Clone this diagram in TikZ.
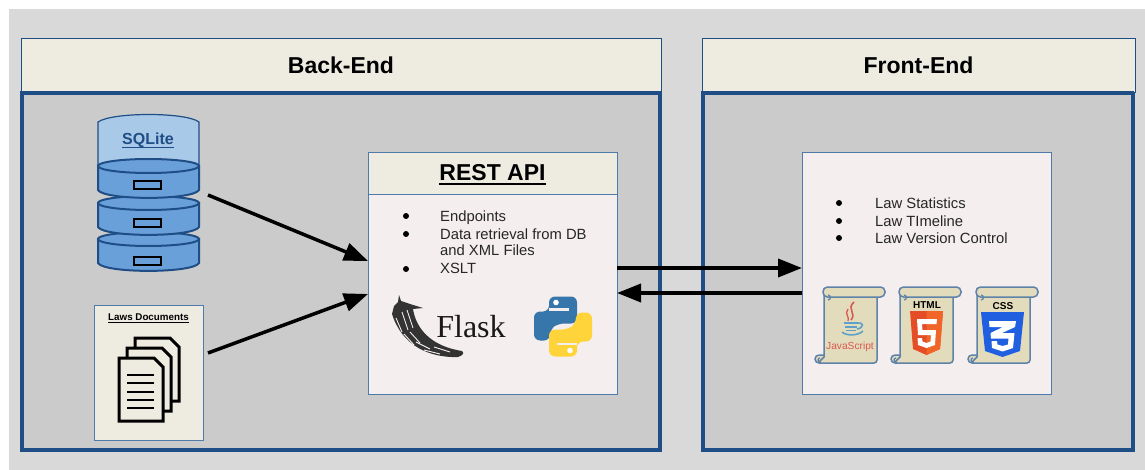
\documentclass[tikz,border=0pt]{standalone}
\usepackage{fontspec}
\setmainfont{Liberation Sans}
\newfontfamily\flaskfont{Liberation Serif}
\usetikzlibrary{arrows.meta}
\definecolor{pagegray}{HTML}{D9D9D9}
\definecolor{panelgray}{HTML}{CBCBCB}
\definecolor{cream}{HTML}{EEECE1}
\definecolor{blush}{HTML}{F5EEEE}
\definecolor{navy}{HTML}{1F4E86}
\definecolor{thinblue}{HTML}{4F7BAA}
\definecolor{diskblue}{HTML}{6AA0DA}
\definecolor{disklight}{HTML}{A9C9E8}
\definecolor{scrollfill}{HTML}{E3DCBC}
\definecolor{scrollline}{HTML}{5E82A8}
\definecolor{pyblue}{HTML}{3776AB}
\definecolor{pyyellow}{HTML}{FFD43B}
\definecolor{jsred}{HTML}{D9584F}
\definecolor{jsblue}{HTML}{5FA0C8}
\definecolor{htmlorange}{HTML}{E44D26}
\definecolor{htmlorangeb}{HTML}{F16529}
\definecolor{cssblue}{HTML}{1F5FE0}
\newcommand{\myul}[3]{\setbox0\hbox{#1}\leavevmode\rlap{\vrule height -#2 depth \dimexpr #2+#3\relax width \wd0}\box0}
\newcommand{\pysnake}[1]{%
  \path[fill=#1,rounded corners=6pt] (-14,-15) -- (-14,-30) -- (14,-30) -- (14,-3) -- (-5,-3) -- (-13,3) -- (-13,14) -- (-29,14) -- (-29,-15) -- cycle;
  \fill[#1] (-16,-17) rectangle (-10,-13);
  \fill[blush] (-14,-18.5) rectangle (6,-16);
  \fill[white] (-7,-24) circle[radius=2.8];
}
\tikzset{
  x=1pt,y=-1pt,
  panel/.style={draw=navy,line width=3.2pt,fill=panelgray},
  header/.style={draw=navy,line width=1pt,fill=cream},
  titletext/.style={font=\fontsize{23}{26}\selectfont\bfseries,anchor=base},
  box/.style={draw=thinblue,line width=1pt,fill=blush},
  listtext/.style={font=\fontsize{14.8}{17}\selectfont,anchor=base west,inner sep=0pt,text=black!85},
  bulletdot/.style={circle,fill=black,inner sep=0pt,minimum size=6pt},
  flow/.style={draw=black,line width=3.5pt,-{Triangle[length=24pt,width=18pt]}},
  diskshape/.style={draw=navy,line width=2pt,fill=diskblue},
  slot/.style={draw=black,line width=2pt,fill=diskblue},
  page/.style={draw=black,line width=3pt,fill=cream,line join=miter},
  scrollstroke/.style={draw=scrollline,line width=1.5pt,fill=scrollfill},
  scrollpic/.pic={
    \path[scrollstroke] (-9,68) [rounded corners=4pt] rectangle (4,76);
    \path[scrollstroke] (0,2) -- (53,2) -- (53,72) [rounded corners=3pt] -- (53,76) -- (-6,76) [sharp corners] -- (0,70) -- cycle;
    \path[scrollstroke,rounded corners=4.5pt] (-1,0) rectangle (61,10);
    \draw[scrollline,line width=1.2pt] (4,8) arc[start angle=90,end angle=270,radius=-2.5];
    \draw[scrollline,line width=1.2pt] (-4,71) arc[start angle=90,end angle=-90,radius=-2];
  },
}
\begin{document}
\begin{tikzpicture}
\useasboundingbox (0,0) rectangle (1145,470);
\fill[pagegray] (9,9) rectangle (1145,470);

% Back-end frame
\path[panel] (22,93) rectangle (660,450);
\path[header] (21,39) rectangle (661,93);
\draw[navy,line width=3.2pt] (21,93) -- (661,93);
\node[titletext] (backtitle) at (341,74) {Back-End};

% Front-end frame
\path[panel] (703,93) rectangle (1133,450);
\path[header] (702,39) rectangle (1135,93);
\draw[navy,line width=3.2pt] (702,93) -- (1134,93);
\node[titletext] (fronttitle) at (918.5,74) {Front-End};

% Database
\path[draw=navy,line width=1.2pt,fill=disklight] (98,122) .. controls (112,112) and (186,112) .. (199,122) -- (199,166) -- (98,166) -- cycle;
\foreach \t/\b/\s in {239/263/257,203/227/219,166/190/181}{
  \path[diskshape] (98,\t) -- (98,\b) .. controls (104,{\b+10.5}) and (193,{\b+10.5}) .. (199,\b) -- (199,\t) -- cycle;
  \path[diskshape] (148.5,\t) ellipse[x radius=50.5,y radius=7];
  \path[slot] (134,\s) rectangle (161,{\s+8.5});
}
\node[font=\fontsize{16}{18}\selectfont\bfseries,text=navy,anchor=base,inner sep=0pt] (sqlitelabel) at (148,145) {\myul{SQLite}{2pt}{1pt}};
\coordinate (dbout) at (208,195);

% Documents
\node[draw=thinblue,line width=1pt,fill=cream,minimum width=109pt,minimum height=135pt,inner sep=0pt,anchor=north west] (docs) at (94,305) {};
\node[font=\fontsize{9.8}{11}\selectfont\bfseries,anchor=base,inner sep=0pt] (docslabel) at (148.5,320) {\myul{Laws Documents}{1.5pt}{.8pt}};
\foreach \dx/\dy in {16/-20,8/-10,0/0}{
  \begin{scope}[shift={(\dx,\dy)}]
    \path[page] (119,358) -- (154,358) -- (163,367) -- (163,421) -- (119,421) -- cycle;
  \end{scope}
}
\foreach \ly in {375,383,392,400,408}{
  \draw[black,line width=2.5pt] (127,\ly) -- (154,\ly);
}
\coordinate (docsout) at (208,353);

% REST API
\node[box,minimum width=249pt,minimum height=242pt,inner sep=0pt,anchor=north west] (rest) at (368,152) {};
\node[draw=thinblue,line width=1pt,fill=cream,minimum width=249pt,minimum height=42pt,inner sep=0pt,anchor=north west] (resthead) at (368,152) {};
\node[font=\fontsize{23}{26}\selectfont\bfseries,anchor=base,inner sep=0pt] (resttitle) at (492.5,180.5) {\myul{REST API}{3pt}{1.5pt}};
\node[bulletdot] (rb1) at (406,216) {};
\node[bulletdot] (rb2) at (406,234) {};
\node[bulletdot] (rb3) at (406,269) {};
\node[listtext] (rt1) at (440,221.7) {Endpoints};
\node[listtext] (rt2) at (440,239.7) {Data retrieval from DB};
\node[listtext] (rt2b) at (440,256) {and XML Files};
\node[listtext] (rt3) at (440,273.7) {XSLT};
\coordinate (restinA) at (368,261);
\coordinate (restinB) at (368,294);
\coordinate (restoutR) at (617,268);
\coordinate (restinL) at (617,293);

% Flask logo
\path[fill=black!80] (399,295) -- (401,301) -- (410,304) -- (423,308) -- (413,309)
  .. controls (416,328) and (430,346) .. (462,351)
  .. controls (464,353) and (464,355) .. (458,357)
  .. controls (430,358) and (402,346) .. (392,314)
  -- (394,306) -- (398,302) -- cycle;
\foreach \sx/\sy/\ex/\ey in {402/312/408/330, 407/310/413/328, 396/318/402/332, 410/332/420/343, 404/334/414/345, 416/342/430/349, 424/350/440/354, 434/347/450/352, 412/347/424/353}{
  \draw[blush,line width=.9pt] (\sx,\sy) -- (\ex,\ey);
}
\node[font=\flaskfont\fontsize{32}{34}\selectfont,text=black!90,anchor=base,inner sep=0pt] (flasklabel) at (471,337) {Flask};

% Python logo
\begin{scope}[shift={(563,326.5)}]
  \pysnake{pyblue}
  \begin{scope}[rotate=180]
    \pysnake{pyyellow}
  \end{scope}
\end{scope}

% Front-end box
\node[box,minimum width=249pt,minimum height=242pt,inner sep=0pt,anchor=north west] (front) at (802,152) {};
\node[bulletdot] (fb1) at (839,203) {};
\node[bulletdot] (fb2) at (839,221) {};
\node[bulletdot] (fb3) at (839,238) {};
\node[listtext] (ft1) at (875,208.7) {Law Statistics};
\node[listtext] (ft2) at (875,226.7) {Law TImeline};
\node[listtext] (ft3) at (875,243.7) {Law Version Control};
\coordinate (frontinR) at (802,268);
\coordinate (frontoutL) at (802,293);

% Scrolls
\pic at (824,287) {scrollpic};
\pic at (900,287) {scrollpic};
\pic at (977,287) {scrollpic};

% JavaScript
\draw[jsred,line width=1.6pt] (854,302) .. controls (846,309) and (857,313) .. (851,320);
\draw[jsred,line width=1.3pt] (848,309) .. controls (844,314) and (850,317) .. (848,321);
\draw[jsblue,line width=2pt] (844,323) -- (858,323);
\draw[jsblue,line width=2pt] (845,327) -- (857,327);
\draw[jsblue,line width=1.6pt] (858,323) .. controls (864,322) and (864,328) .. (857,329);
\draw[jsblue,line width=1.6pt] (846,330.5) -- (856,330.5);
\draw[jsblue,line width=1.6pt] (842,332) .. controls (846,336) and (858,336) .. (863,331);
\node[font=\fontsize{10.2}{11}\selectfont,text=jsred,anchor=base,inner sep=0pt] (jslabel) at (850,349) {JavaScript};

% HTML5
\node[font=\fontsize{10}{11}\selectfont\bfseries,anchor=base,inner sep=0pt] (htmllabel) at (927,308) {HTML};
\fill[htmlorange] (910,311) -- (943,311) -- (940,349) -- (926.5,355) -- (913,349) -- cycle;
\fill[htmlorangeb] (926.5,311) -- (943,311) -- (940,349) -- (926.5,355) -- cycle;
\fill[white] (917,319) -- (937,319) -- (936.5,324) -- (922,324) -- (922.5,330) -- (936,330) -- (935,345) -- (926.5,348) -- (918,345) -- (917.5,338) -- (922,338) -- (922.5,341.5) -- (926.5,343) -- (930.5,341.5) -- (931,335) -- (918,335) -- cycle;

% CSS3
\node[font=\fontsize{10}{11}\selectfont\bfseries,anchor=base,inner sep=0pt] (csslabel) at (1003,309) {CSS};
\fill[cssblue] (981,312) -- (1024,312) -- (1020,351) -- (1002.5,357) -- (985,351) -- cycle;
\fill[white] (989,321) -- (1016,321) -- (1015,327) -- (1002,333) -- (1014.5,333) -- (1013,348) -- (1002.5,351.5) -- (992,348) -- (991.5,341) -- (997,341) -- (997.5,344.5) -- (1002.5,346) -- (1008,344.5) -- (1008.5,338.5) -- (991,338.5) -- (990.5,333) -- (1003,327) -- (989.5,327) -- cycle;

% Connectors
\draw[flow] (dbout) -- (restinA);
\draw[flow] (docsout) -- (restinB);
\draw[flow] (restoutR) -- (frontinR);
\draw[flow] (frontoutL) -- (restinL);
\end{tikzpicture}
\end{document}
